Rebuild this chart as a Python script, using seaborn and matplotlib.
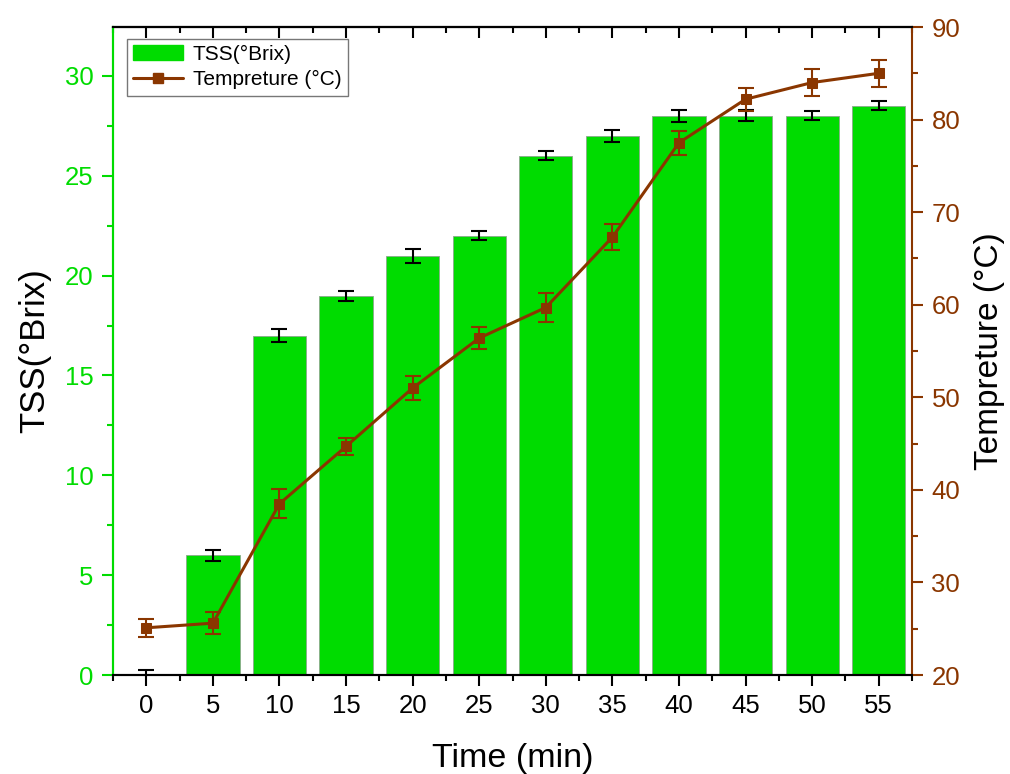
import numpy as np
import pandas as pd
import matplotlib
matplotlib.use("Agg")
import matplotlib.pyplot as plt
import seaborn as sns
from matplotlib.patches import Patch
from matplotlib.lines import Line2D
from matplotlib.ticker import MultipleLocator

# ---- data ----
time_min = [0, 5, 10, 15, 20, 25, 30, 35, 40, 45, 50, 55]
tss = [0, 6, 17, 19, 21, 22, 26, 27, 28, 28, 28, 28.5]
tss_err = [0.25, 0.28, 0.34, 0.25, 0.35, 0.24, 0.22, 0.29, 0.29, 0.28, 0.23, 0.23]
temp = [25.1, 25.6, 38.5, 44.7, 51.0, 56.4, 59.7, 67.3, 77.5, 82.2, 84.0, 85.0]
temp_err = [0.97, 1.17, 1.58, 0.88, 1.27, 1.2, 1.62, 1.4, 1.3, 1.26, 1.44, 1.48]
x_ticks = [0, 5, 10, 15, 20, 25, 30, 35, 40, 45, 50, 55]

GREEN = "#00dc00"
BROWN = "#8a3600"

sns.set_style("ticks")
plt.rcParams['font.family'] = ['Liberation Sans', 'DejaVu Sans']
plt.rcParams['text.color'] = 'black'
plt.rcParams['axes.labelcolor'] = 'black'
plt.rcParams['axes.edgecolor'] = 'black'

df = pd.DataFrame({"time": time_min, "tss": tss, "temp": temp})

fig = plt.figure(figsize=(10.10, 7.74), dpi=100)
ax = fig.add_axes([0.1119, 0.1279, 0.7911, 0.8372])

sns.barplot(data=df, x="time", y="tss", native_scale=True, width=0.8,
            color=GREEN, saturation=1, edgecolor="#8aa88a", linewidth=0.6,
            errorbar=None, ax=ax, zorder=1)
ax.errorbar(time_min, tss, yerr=tss_err, fmt='none', ecolor='black',
            elinewidth=1.5, capsize=5.5, capthick=1.5, zorder=3)

ax2 = ax.twinx()
sns.lineplot(data=df, x="time", y="temp", color=BROWN, marker='s',
             markersize=6.5, markeredgecolor=BROWN, linewidth=2.2, ax=ax2, zorder=4)
ax2.errorbar(time_min, temp, yerr=temp_err, fmt='none', ecolor=BROWN,
             elinewidth=1.5, capsize=5.5, capthick=1.5, zorder=4)

# axes limits and ticks
ax.set_xlim(-2.5, 57.5)
ax.set_ylim(0, 32.45)
ax2.set_ylim(20, 90)
ax.set_xticks(x_ticks)
ax.set_xticklabels([str(t) for t in x_ticks])
ax.xaxis.set_minor_locator(MultipleLocator(2.5))
ax.yaxis.set_major_locator(MultipleLocator(5))
ax.yaxis.set_minor_locator(MultipleLocator(2.5))
ax2.yaxis.set_major_locator(MultipleLocator(10))
ax2.yaxis.set_minor_locator(MultipleLocator(5))

TICK_FS = 18.5
ax.tick_params(axis='x', which='major', direction='out', length=8, width=1.5,
               labelsize=TICK_FS, colors='black', pad=6)
ax.tick_params(axis='x', which='minor', direction='out', length=4, width=1.5, colors='black')
ax.tick_params(axis='y', which='major', direction='out', length=8, width=1.5,
               labelsize=TICK_FS, colors=GREEN, pad=6)
ax.tick_params(axis='y', which='minor', direction='out', length=4, width=1.5, colors=GREEN)
ax2.tick_params(axis='y', which='major', direction='out', length=8, width=1.5,
                labelsize=TICK_FS, colors=BROWN, pad=6)
ax2.tick_params(axis='y', which='minor', direction='out', length=4, width=1.5, colors=BROWN)

# top ticks pointing inward
top = ax.secondary_xaxis('top')
top.set_xticks(x_ticks)
top.xaxis.set_minor_locator(MultipleLocator(2.5))
top.tick_params(which='major', direction='in', length=8, width=1.5, labeltop=False, colors='black')
top.tick_params(which='minor', direction='in', length=4, width=1.5, colors='black')
top.spines['top'].set_linewidth(1.5)
top.spines['top'].set_color('black')

for a in (ax, ax2):
    for s in a.spines.values():
        s.set_linewidth(1.5)
ax.spines['left'].set_color(GREEN)
ax2.spines['left'].set_color(GREEN)
ax2.spines['right'].set_color(BROWN)
ax.spines['right'].set_visible(False)

ax.set_xlabel("Time (min)", fontsize=24.5, labelpad=18)
ax.set_ylabel("TSS(°Brix)", fontsize=25, labelpad=10)
ax2.set_ylabel("Tempreture (°C)", fontsize=24, labelpad=10)

handles = [Patch(facecolor=GREEN, edgecolor=GREEN),
           Line2D([0], [0], color=BROWN, lw=2.2, marker='s', markersize=6.5)]
leg = ax2.legend(handles, ["TSS(°Brix)", "Tempreture (°C)"], loc='upper left',
                 bbox_to_anchor=(0.0175, 0.982), borderaxespad=0, fontsize=15,
                 frameon=True, fancybox=False, edgecolor='#555555',
                 handlelength=2.4, handletextpad=0.45, borderpad=0.3,
                 labelspacing=0.3)
leg.get_frame().set_linewidth(1.0)

fig.savefig("out.png", dpi=100)
